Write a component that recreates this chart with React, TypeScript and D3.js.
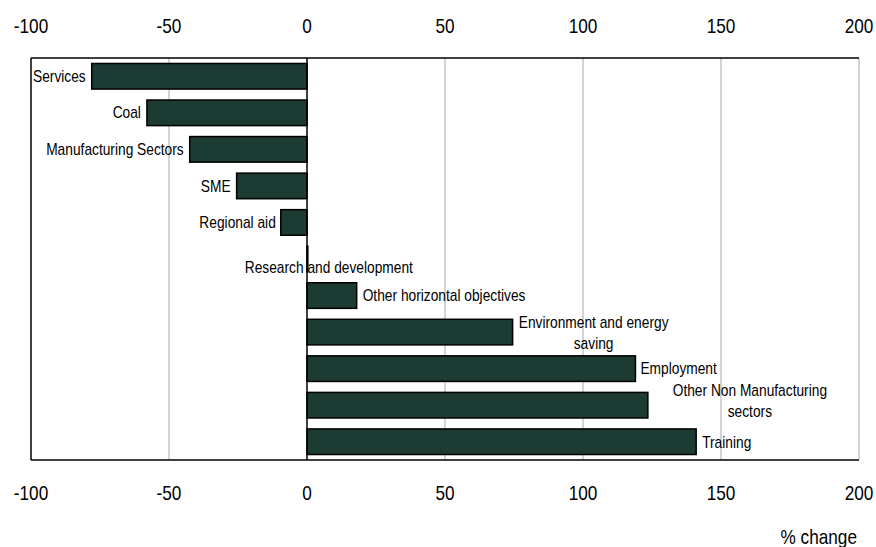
import React from "react";
import * as d3 from "d3";

const categories = [
  "Services",
  "Coal",
  "Manufacturing Sectors",
  "SME",
  "Regional aid",
  "Research and development",
  "Other horizontal objectives",
  "Environment and energy saving",
  "Employment",
  "Other Non Manufacturing sectors",
  "Training",
];
const values = [-78, -58, -42.5, -25.5, -9.5, 0.3, 18, 74.5, 119, 123.5, 141];
const labelLines = [
  ["Services"],
  ["Coal"],
  ["Manufacturing Sectors"],
  ["SME"],
  ["Regional aid"],
  ["Research and development"],
  ["Other horizontal objectives"],
  ["Environment and energy", "saving"],
  ["Employment"],
  ["Other Non Manufacturing", "sectors"],
  ["Training"],
];
const tickValues = [-100, -50, 0, 50, 100, 150, 200];
const axisTitle = "% change";

// label placement (style config, relative to bar end)
const labelPlacement: { anchor: string; dx: number; dy: number }[] = [
  { anchor: "end", dx: -6, dy: 0 },
  { anchor: "end", dx: -6, dy: 0 },
  { anchor: "end", dx: -6, dy: 0 },
  { anchor: "end", dx: -6, dy: 0 },
  { anchor: "end", dx: -5, dy: 0 },
  { anchor: "middle", dx: 21, dy: 8 },
  { anchor: "start", dx: 6, dy: 0 },
  { anchor: "middle", dx: 81, dy: 1 },
  { anchor: "start", dx: 5, dy: 0 },
  { anchor: "middle", dx: 102, dy: -4 },
  { anchor: "start", dx: 6, dy: 1 },
];

const W = 876;
const H = 547;
const M = { left: 31, right: 859, top: 58, bottom: 460 };
const FONT = "'Liberation Sans', Arial, sans-serif";
const SX = 0.86;

export default function App() {
  const x = d3.scaleLinear().domain([-100, 200]).range([M.left, M.right]);
  const y = d3
    .scaleBand<string>()
    .domain(categories)
    .range([M.top, M.bottom])
    .paddingInner(0.3)
    .paddingOuter(0.15);

  const Txt = ({ tx, ty, size, anchor, children }: any) => (
    <text
      transform={`translate(${tx},${ty}) scale(${SX},1)`}
      fontSize={size}
      fontFamily={FONT}
      textAnchor={anchor}
      dy="0.35em"
      fill="#000"
    >
      {children}
    </text>
  );

  return (
    <svg
      width={W}
      height={H}
      style={{ position: "absolute", left: 0, top: 0, background: "#fff" }}
    >
      <rect x={0} y={0} width={W} height={H} fill="#fff" />
      {/* gridlines */}
      {tickValues
        .filter((t) => t !== 0 && t !== -100)
        .map((t) => (
          <line
            key={"g" + t}
            x1={x(t)}
            x2={x(t)}
            y1={M.top}
            y2={M.bottom}
            stroke="#b8b8b8"
            strokeWidth={1.2}
          />
        ))}
      {/* frame */}
      <line x1={M.left} x2={M.right} y1={M.top} y2={M.top} stroke="#000" strokeWidth={1.5} />
      <line x1={M.left} x2={M.right} y1={M.bottom} y2={M.bottom} stroke="#000" strokeWidth={1.5} />
      <line x1={x(-100)} x2={x(-100)} y1={M.top} y2={M.bottom} stroke="#000" strokeWidth={1.5} />
      {/* bars */}
      {categories.map((c, i) => {
        const v = values[i];
        const x0 = x(Math.min(0, v));
        const w = Math.abs(x(v) - x(0));
        return (
          <rect
            key={c}
            x={x0}
            y={y(c)!}
            width={w}
            height={y.bandwidth()}
            fill="#1b3b33"
            stroke="#000"
            strokeWidth={1.5}
          />
        );
      })}
      {/* zero line */}
      <line x1={x(0)} x2={x(0)} y1={M.top} y2={M.bottom} stroke="#000" strokeWidth={1.5} />
      {/* labels */}
      {categories.map((c, i) => {
        const v = values[i];
        const p = labelPlacement[i];
        const lines = labelLines[i];
        const cy = y(c)! + y.bandwidth() / 2 + p.dy;
        const lh = 21;
        return lines.map((ln, j) => (
          <Txt
            key={c + j}
            tx={x(v) + p.dx}
            ty={cy + (j - (lines.length - 1) / 2) * lh}
            size={16}
            anchor={p.anchor}
          >
            {ln}
          </Txt>
        ));
      })}
      {/* tick labels */}
      {tickValues.map((t) => (
        <Txt key={"tt" + t} tx={x(t)} ty={26} size={20} anchor="middle">
          {t}
        </Txt>
      ))}
      {tickValues.map((t) => (
        <Txt key={"tb" + t} tx={x(t)} ty={493} size={20} anchor="middle">
          {t}
        </Txt>
      ))}
      <Txt tx={857} ty={537} size={20} anchor="end">
        {axisTitle}
      </Txt>
    </svg>
  );
}
